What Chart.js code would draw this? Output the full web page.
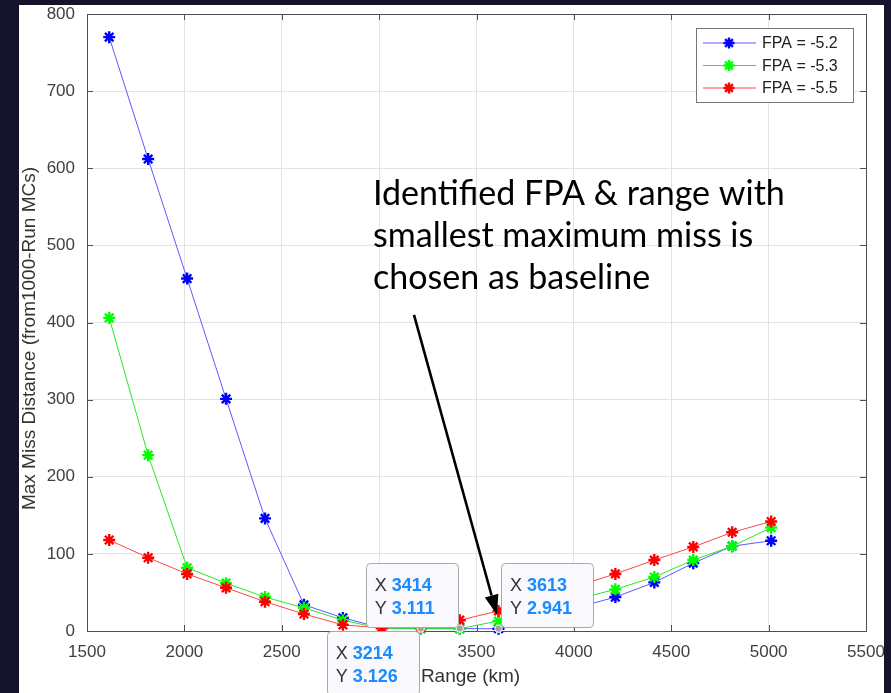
<!DOCTYPE html>
<html>
<head>
<meta charset="utf-8">
<script src="https://cdn.jsdelivr.net/npm/chart.js@4.4.1/dist/chart.umd.min.js"></script>
<style>
  html, body { margin: 0; padding: 0; background: #16142b; width: 891px; height: 693px; overflow: hidden; }
  #panel { position: absolute; left: 19px; top: 5px; width: 865px; height: 688px; background: #fff; }
</style>
</head>
<body>
<div id="panel"><canvas id="c" width="865" height="688"></canvas></div>
<script>
// ranges (km) of the Monte Carlo sweep
const ranges = [1614, 1814, 2014, 2214, 2414, 2614, 2814, 3014, 3214, 3414, 3613, 3813, 4013, 4213, 4413, 4613, 4813, 5013];

// max miss distance per FPA
const fpa52 = [770, 612, 457, 301, 146, 34, 17, 4, 3.126, 3.111, 2.941, 16, 30, 44, 63, 88, 110, 117];
const fpa53 = [406, 228, 82, 62, 44, 30, 14, 3, 3, 3, 13, 27, 41, 54, 70, 92, 110, 134];
const fpa55 = [118, 95, 74, 56, 38, 22, 8, 4, 5, 14, 26, 42, 58, 74, 92, 109, 128, 142];
const seriesLabels = ['FPA = -5.2', 'FPA = -5.3', 'FPA = -5.5'];

const xTickValues = [1500, 2000, 2500, 3000, 3500, 4000, 4500, 5000, 5500];
const yTickValues = [0, 100, 200, 300, 400, 500, 600, 700, 800];
const xTitle = 'Range (km)';
const yTitle = 'Max Miss Distance (from1000-Run MCs)';

// data tips shown on the plot
const tipX = [3214, 3414, 3613];
const tipY = ['3.126', '3.111', '2.941'];

const noteLines = ['Identified FPA & range with', 'smallest maximum miss is', 'chosen as baseline'];

const AXIS_FONT = '"Liberation Sans", Arial, Helvetica, sans-serif';
const AXIS_COLOR = '#505050';

function pts(ys) {
  return ranges.map((x, i) => ({ x: x, y: ys[i] }));
}

function series(label, ys, line, mark, order) {
  return {
    label: label,
    data: pts(ys),
    borderColor: line,
    borderWidth: 1,
    pointStyle: 'star',
    pointRadius: 6,
    pointBorderWidth: 2.4,
    pointBorderColor: mark,
    pointBackgroundColor: mark,
    tension: 0,
    clip: false,
    order: order
  };
}

function drawStar(ctx, x, y, r, color) {
  ctx.save();
  ctx.strokeStyle = color;
  ctx.lineWidth = 2.4;
  ctx.beginPath();
  for (let k = 0; k < 4; k++) {
    const a = k * Math.PI / 4;
    ctx.moveTo(x - r * Math.cos(a), y - r * Math.sin(a));
    ctx.lineTo(x + r * Math.cos(a), y + r * Math.sin(a));
  }
  ctx.stroke();
  ctx.restore();
}

// axes box with inward ticks, like MATLAB, plus the axis titles
const framePlugin = {
  id: 'frame',
  beforeDatasetsDraw(chart) {
    const { ctx, chartArea: a, scales } = chart;
    ctx.save();
    ctx.strokeStyle = AXIS_COLOR;
    ctx.lineWidth = 1;
    ctx.strokeRect(Math.round(a.left) + 0.5, Math.round(a.top) + 0.5, Math.round(a.right - a.left), Math.round(a.bottom - a.top));
    ctx.beginPath();
    xTickValues.forEach(v => {
      const px = Math.round(scales.x.getPixelForValue(v)) + 0.5;
      ctx.moveTo(px, a.bottom); ctx.lineTo(px, a.bottom - 6);
      ctx.moveTo(px, a.top); ctx.lineTo(px, a.top + 6);
    });
    yTickValues.forEach(v => {
      const py = Math.round(scales.y.getPixelForValue(v)) + 0.5;
      ctx.moveTo(a.left, py); ctx.lineTo(a.left + 6, py);
      ctx.moveTo(a.right, py); ctx.lineTo(a.right - 6, py);
    });
    ctx.stroke();

    ctx.font = '19px ' + AXIS_FONT;
    ctx.fillStyle = '#333';
    ctx.textAlign = 'center';
    ctx.textBaseline = 'middle';
    ctx.fillText(xTitle, (a.left + a.right) / 2 - 6, a.bottom + 46);
    ctx.translate(11, (a.top + a.bottom) / 2 + 16);
    ctx.rotate(-Math.PI / 2);
    ctx.fillText(yTitle, 0, 0);
    ctx.restore();
  }
};

const legendPlugin = {
  id: 'boxLegend',
  afterDatasetsDraw(chart) {
    const { ctx, chartArea: a } = chart;
    const w = 157, h = 74;
    const left = a.right - 13 - w, top = a.top + 14;
    ctx.save();
    ctx.fillStyle = '#fff';
    ctx.fillRect(left, top, w, h);
    ctx.strokeStyle = '#777';
    ctx.lineWidth = 1;
    ctx.strokeRect(left + 0.5, top + 0.5, w, h);
    ctx.font = '16px ' + AXIS_FONT;
    ctx.textBaseline = 'middle';
    chart.data.datasets.forEach((ds, i) => {
      const cy = top + 15 + i * 22.5;
      ctx.strokeStyle = ds.borderColor;
      ctx.lineWidth = 1;
      ctx.beginPath();
      ctx.moveTo(left + 7, cy); ctx.lineTo(left + 60, cy);
      ctx.stroke();
      drawStar(ctx, left + 33, cy, 5.5, ds.pointBorderColor);
      ctx.fillStyle = '#222';
      ctx.fillText(ds.label, left + 66, cy + 1);
    });
    ctx.restore();
  }
};

// callout text, arrow and data tips
const notePlugin = {
  id: 'note',
  afterDraw(chart) {
    const { ctx, scales } = chart;
    const xs = scales.x, ys = scales.y;
    ctx.save();

    // callout text, fitted to the width of the first line
    let size = 30;
    ctx.font = size + 'px Lato, "Open Sans", sans-serif';
    size = size * 412 / ctx.measureText(noteLines[0]).width;
    ctx.font = size.toFixed(2) + 'px Lato, "Open Sans", sans-serif';
    ctx.fillStyle = '#000';
    ctx.textBaseline = 'alphabetic';
    noteLines.forEach((t, i) => ctx.fillText(t, 354, 200 + i * 42));

    // arrow
    const x0 = xs.getPixelForValue(3179), y0 = ys.getPixelForValue(410);
    const x1 = xs.getPixelForValue(3605), y1 = ys.getPixelForValue(21);
    const ang = Math.atan2(y1 - y0, x1 - x0);
    const hl = 20, hw = 7;
    const bx = x1 - hl * Math.cos(ang), by = y1 - hl * Math.sin(ang);
    ctx.strokeStyle = '#000';
    ctx.lineWidth = 2.6;
    ctx.beginPath();
    ctx.moveTo(x0, y0); ctx.lineTo(bx, by);
    ctx.stroke();
    ctx.fillStyle = '#000';
    ctx.beginPath();
    ctx.moveTo(x1, y1);
    ctx.lineTo(bx + hw * Math.sin(ang), by - hw * Math.cos(ang));
    ctx.lineTo(bx - hw * Math.sin(ang), by + hw * Math.cos(ang));
    ctx.closePath();
    ctx.fill();

    // data tips: below-left, above-left, above-right
    const place = [[-1, 1], [-1, -1], [1, -1]];
    const bw = 92, bh = 64;
    tipX.forEach((tx, i) => {
      const px = xs.getPixelForValue(tx), py = ys.getPixelForValue(parseFloat(tipY[i]));
      ctx.fillStyle = '#a3a3a3';
      ctx.strokeStyle = '#f0f0e8';
      ctx.lineWidth = 1.2;
      ctx.beginPath();
      ctx.arc(px, py, 3.6, 0, Math.PI * 2);
      ctx.fill(); ctx.stroke();

      const [sx, sy] = place[i];
      const bl = sx < 0 ? px - 2 - bw : px + 2.5;
      const bt = sy < 0 ? py - 2 - bh : py + 2;
      ctx.fillStyle = '#f9f9fd';
      ctx.strokeStyle = '#a8a8a8';
      ctx.lineWidth = 1;
      ctx.beginPath();
      ctx.roundRect(Math.round(bl) + 0.5, Math.round(bt) + 0.5, bw, bh, 4);
      ctx.fill(); ctx.stroke();

      ctx.textBaseline = 'alphabetic';
      ctx.font = '18px ' + AXIS_FONT;
      ctx.fillStyle = '#333';
      ctx.fillText('X', bl + 9, bt + 28);
      ctx.fillText('Y', bl + 9, bt + 51);
      ctx.font = 'bold 18px ' + AXIS_FONT;
      ctx.fillStyle = '#1a8cff';
      ctx.fillText(String(tx), bl + 26, bt + 28);
      ctx.fillText(tipY[i], bl + 26, bt + 51);
    });
    ctx.restore();
  }
};

const chart = new Chart(document.getElementById('c').getContext('2d'), {
  type: 'line',
  data: {
    datasets: [
      series(seriesLabels[0], fpa52, 'rgb(90,90,255)', '#0000ff', 2),
      series(seriesLabels[1], fpa53, 'rgb(40,230,40)', '#00ff00', 1),
      series(seriesLabels[2], fpa55, 'rgb(255,70,70)', '#ff0000', 0)
    ]
  },
  options: {
    responsive: false,
    animation: false,
    layout: { autoPadding: false, padding: { left: 0, right: 18, top: 9, bottom: 0 } },
    plugins: {
      legend: { display: false },
      tooltip: { enabled: false }
    },
    scales: {
      x: {
        type: 'linear',
        min: 1500,
        max: 5500,
        afterBuildTicks: s => { s.ticks = xTickValues.map(v => ({ value: v })); },
        afterFit: s => { s.height = 62; s.paddingLeft = 0; s.paddingRight = 0; },
        ticks: {
          callback: v => String(v),
          font: { family: AXIS_FONT, size: 17 },
          color: '#404040',
          padding: 11,
          maxRotation: 0
        },
        grid: { color: '#e3e3e3', drawTicks: false },
        border: { display: false }
      },
      y: {
        min: 0,
        max: 800,
        afterBuildTicks: s => { s.ticks = yTickValues.map(v => ({ value: v })); },
        afterFit: s => { s.width = 68; s.paddingTop = 0; s.paddingBottom = 0; },
        ticks: {
          callback: v => String(v),
          font: { family: AXIS_FONT, size: 17 },
          color: '#404040',
          padding: 12
        },
        grid: { color: '#e3e3e3', drawTicks: false },
        border: { display: false }
      }
    }
  },
  plugins: [framePlugin, legendPlugin, notePlugin]
});
</script>
</body>
</html>
